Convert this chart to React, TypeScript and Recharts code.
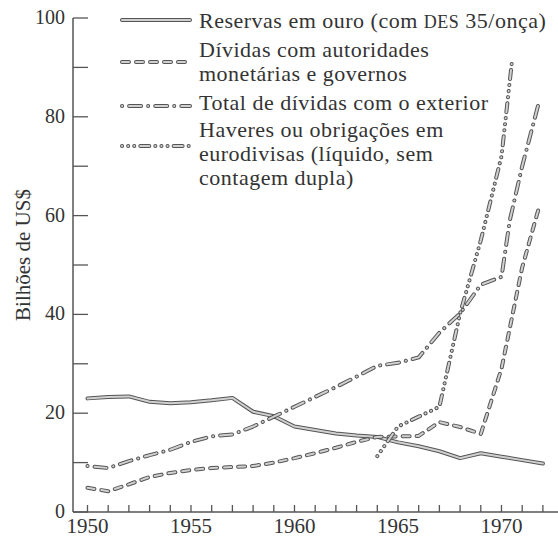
import { LineChart, Line, XAxis, YAxis, Legend, Label } from 'recharts';

// valores (bilhões de US$)
const reservasAnos = [1950, 1951, 1952, 1953, 1954, 1955, 1956, 1957, 1958, 1959, 1960, 1961, 1962, 1963, 1964, 1965, 1966, 1967, 1968, 1969, 1970, 1971, 1972];
const reservasValores = [23.0, 23.3, 23.4, 22.3, 22.0, 22.2, 22.6, 23.1, 20.3, 19.4, 17.3, 16.6, 15.9, 15.5, 15.2, 14.1, 13.3, 12.3, 10.9, 11.9, 11.2, 10.5, 9.8];

const dividasAnos = [1950, 1951, 1952, 1953, 1954, 1955, 1956, 1957, 1958, 1959, 1960, 1961, 1962, 1963, 1964, 1965, 1966, 1967, 1968, 1969, 1970, 1971, 1971.8];
const dividasValores = [4.9, 4.2, 5.6, 7.1, 7.9, 8.5, 8.9, 9.1, 9.3, 10.0, 10.9, 11.9, 13.0, 14.2, 15.2, 15.3, 15.4, 18.2, 17.2, 15.8, 29.0, 49.5, 61.5];

const totalAnos = [1950, 1951, 1952, 1953, 1954, 1955, 1956, 1957, 1958, 1959, 1960, 1961, 1962, 1963, 1964, 1965, 1966, 1967, 1968, 1969, 1970, 1970.4, 1971, 1971.8];
const totalValores = [9.3, 8.9, 10.3, 11.5, 12.6, 14.2, 15.3, 15.7, 17.3, 19.3, 21.3, 23.3, 25.3, 27.4, 29.6, 30.2, 31.3, 36.3, 40.2, 46.0, 47.6, 59.0, 70.0, 82.8];

const eurodivisasAnos = [1964, 1965, 1966, 1967, 1968, 1969, 1970, 1970.5];
const eurodivisasValores = [11.3, 17.3, 19.3, 21.3, 40.2, 55.0, 72.0, 91.0];

const anosTicks = [1950, 1951, 1952, 1953, 1954, 1955, 1956, 1957, 1958, 1959, 1960, 1961, 1962, 1963, 1964, 1965, 1966, 1967, 1968, 1969, 1970, 1971, 1972];
const anosRotulados = [1950, 1955, 1960, 1965, 1970];
const valoresTicks = [0, 10, 20, 30, 40, 50, 60, 70, 80, 90, 100];
const valoresRotulados = [0, 20, 40, 60, 80, 100];

const legendaTextos = [
  ['Reservas em ouro (com DES 35/onça)'],
  ['Dívidas com autoridades', 'monetárias e governos'],
  ['Total de dívidas com o exterior'],
  ['Haveres ou obrigações em', 'eurodivisas (líquido, sem', 'contagem dupla)'],
];

const monta = (anos: number[], valores: number[]) => anos.map((ano, i) => ({ ano, valor: valores[i] }));

const FONTE = "'Liberation Serif', 'DejaVu Serif', serif";
const TINTA = '#333';
const CONTORNO = '#555';
const MIOLO = '#d0d0d0';

const series = [
  { id: 'reservas', dados: monta(reservasAnos, reservasValores), traco: undefined as string | undefined },
  { id: 'dividas', dados: monta(dividasAnos, dividasValores), traco: '7 7' },
  { id: 'total', dados: monta(totalAnos, totalValores), traco: '0.1 7 12 7' },
  { id: 'eurodivisas', dados: monta(eurodivisasAnos, eurodivisasValores), traco: '0.1 6 0.1 6 0.1 6 9 6' },
];

const XTick = ({ x, y, payload }: any) => (
  <g>
    <line x1={x} x2={x} y1={y} y2={y - 7} stroke={CONTORNO} strokeWidth={1.3} />
    {anosRotulados.includes(payload.value) && (
      <text x={x} y={y + 21} textAnchor="middle" fontFamily={FONTE} fontSize={21} fill={TINTA}>
        {payload.value}
      </text>
    )}
  </g>
);

const YTick = ({ x, y, payload }: any) => (
  <g>
    <line x1={x + 8} x2={x + 23} y1={y} y2={y} stroke={CONTORNO} strokeWidth={1.3} />
    {valoresRotulados.includes(payload.value) && (
      <text x={x} y={y + 6} textAnchor="end" fontFamily={FONTE} fontSize={20} fill={TINTA}>
        {payload.value}
      </text>
    )}
  </g>
);

const Amostra = ({ y, traco }: { y: number; traco?: string }) => (
  <g>
    <line x1={122} x2={190} y1={y} y2={y} stroke={CONTORNO} strokeWidth={4} strokeLinecap="round" strokeDasharray={traco} />
    <line x1={122} x2={190} y1={y} y2={y} stroke={MIOLO} strokeWidth={2} strokeLinecap="round" strokeDasharray={traco} />
  </g>
);

const amostraY = [20, 62, 106, 146];
const textoY = [28, 57, 110, 137];

const Legenda = () => (
  <svg width={558} height={200}>
    {legendaTextos.map((linhas, i) => (
      <g key={i}>
        <Amostra y={amostraY[i]} traco={series[i].traco} />
        {linhas.map((t, j) => {
          const partes = t.split('DES');
          return (
            <text key={j} x={199} y={textoY[i] + j * 24} fontFamily={FONTE} fontSize={22} letterSpacing={0.5} fill={TINTA}>
              {partes.length > 1 ? (
                <>
                  {partes[0]}
                  <tspan fontSize={18}>DES</tspan>
                  {partes[1]}
                </>
              ) : (
                t
              )}
            </text>
          );
        })}
      </g>
    ))}
  </svg>
);

export default function App() {
  return (
    <div style={{ position: 'absolute', left: 0, top: 0, width: 558, height: 539, background: '#fff' }}>
      <LineChart width={558} height={539} margin={{ top: 18, right: 0, bottom: 0, left: 0 }}>
        <XAxis
          type="number"
          dataKey="ano"
          domain={[1949.3, 1972.73]}
          allowDataOverflow
          ticks={anosTicks}
          interval={0}
          height={27}
          tickSize={0}
          tickMargin={0}
          tickLine={false}
          axisLine={{ stroke: CONTORNO, strokeWidth: 1.5 }}
          tick={<XTick />}
        />
        <YAxis
          type="number"
          dataKey="valor"
          domain={[0, 100]}
          ticks={valoresTicks}
          interval={0}
          width={73}
          tickSize={0}
          tickMargin={8}
          tickLine={false}
          axisLine={{ stroke: CONTORNO, strokeWidth: 1.5 }}
          tick={<YTick />}
        >
          <Label
            content={({ viewBox }: any) => {
              const cy = viewBox.y + viewBox.height / 2 - 10;
              return (
                <text x={30} y={cy} transform={`rotate(-90, 30, ${cy})`} textAnchor="middle" fontFamily={FONTE} fontSize={21} fill={TINTA}>
                  Bilhões de US$
                </text>
              );
            }}
          />
        </YAxis>
        <Legend
          layout="vertical"
          align="center"
          verticalAlign="middle"
          wrapperStyle={{ left: 0, top: 0, width: 558, height: 200 }}
          content={() => <Legenda />}
        />
        {series.map((s) => [
          <Line
            key={s.id + '-contorno'}
            data={s.dados}
            dataKey="valor"
            type="linear"
            stroke={CONTORNO}
            strokeWidth={4}
            strokeLinecap="round"
            strokeLinejoin="round"
            strokeDasharray={s.traco}
            dot={false}
            activeDot={false}
            legendType="none"
            isAnimationActive={false}
          />,
          <Line
            key={s.id + '-miolo'}
            data={s.dados}
            dataKey="valor"
            type="linear"
            stroke={MIOLO}
            strokeWidth={2}
            strokeLinecap="round"
            strokeLinejoin="round"
            strokeDasharray={s.traco}
            dot={false}
            activeDot={false}
            legendType="none"
            isAnimationActive={false}
          />,
        ])}
      </LineChart>
    </div>
  );
}
